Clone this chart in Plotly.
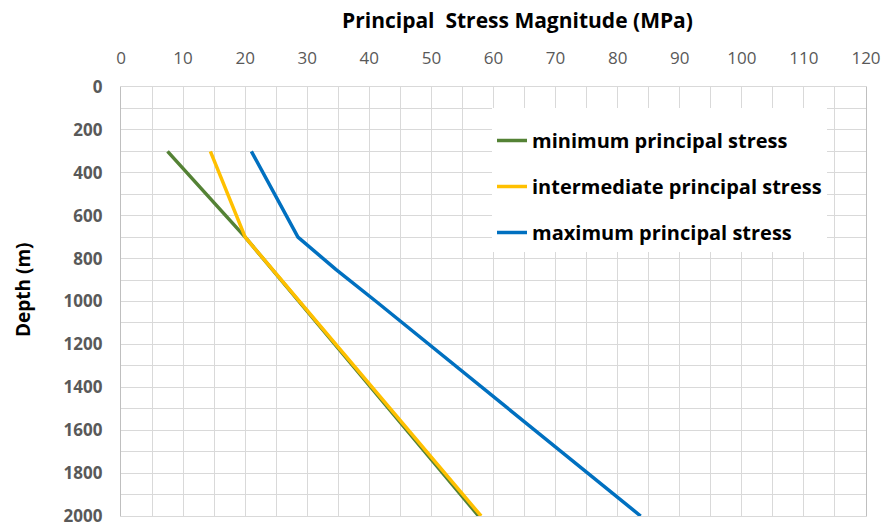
import plotly.graph_objects as go

depth_min = [300, 700, 2000]
stress_min = [7.5, 20.0, 57.6]

depth_int = [300, 700, 2000]
stress_int = [14.4, 20.0, 58.0]

depth_max = [300, 700, 850, 1000, 2000]
stress_max = [21.0, 28.5, 34.6, 41.1, 83.7]

names = ["minimum principal stress", "intermediate principal stress", "maximum principal stress"]
colors = ["#548235", "#FFC000", "#0070C0"]

FONT = "Open Sans"

fig = go.Figure()
series = [(stress_min, depth_min), (stress_int, depth_int), (stress_max, depth_max)]
for i, ((xs, ys), nm, c) in enumerate(zip(series, names, colors)):
    fig.add_trace(go.Scatter(x=xs, y=ys, mode="lines", name=nm,
                             line=dict(color=c, width=3.5),
                             legendgroup=f"g{i}"))

W, H = 892, 526
L, R, T, B = 121, 26, 87, 10

fig.update_layout(
    width=W, height=H,
    margin=dict(l=L, r=R, t=T, b=B, autoexpand=False),
    paper_bgcolor="white", plot_bgcolor="white",
    font=dict(family=FONT, color="#000000"),
    showlegend=True,
    legend=dict(x=(492 - L) / (W - L - R), y=1 - (108 - T) / (H - T - B),
                xanchor="left", yanchor="top",
                bgcolor="white", borderwidth=0,
                font=dict(family=FONT, size=20, color="#000000", weight="bold"),
                title=dict(text=" ", font=dict(size=10)),
                traceorder="grouped", tracegroupgap=17,
                itemwidth=30),
    xaxis=dict(range=[0, 120], side="top", dtick=10, tick0=0, automargin=False,
               showgrid=True, gridcolor="#D9D9D9", gridwidth=1.3,
               minor=dict(dtick=5, showgrid=True, gridcolor="#D9D9D9", gridwidth=1.3),
               showline=True, linecolor="#D9D9D9", linewidth=1.3, mirror=True,
               zeroline=False, ticks="", ticklabeloverflow="allow",
               tickfont=dict(family=FONT, size=17, color="#595959"),
               ticklabelstandoff=15),
    yaxis=dict(range=[2000, 0], dtick=200, tick0=0, automargin=False,
               showgrid=True, gridcolor="#D9D9D9", gridwidth=1.3,
               minor=dict(dtick=100, showgrid=True, gridcolor="#D9D9D9", gridwidth=1.3),
               showline=True, linecolor="#BFBFBF", linewidth=1.3, mirror=True,
               zeroline=False, ticks="", ticklabeloverflow="allow",
               tickfont=dict(family=FONT, size=17, color="#595959", weight="bold"),
               ticklabelstandoff=14),
)

pw = W - L - R
ph = H - T - B
fig.add_annotation(text="Principal  Stress Magnitude (MPa)", xref="paper", yref="paper",
                   x=(517 - L) / pw, y=1 + (T - 20) / ph, xanchor="center", yanchor="middle",
                   showarrow=False, font=dict(family=FONT, size=21, color="#000000", weight="bold"))
fig.add_annotation(text="Depth (m)", xref="paper", yref="paper",
                   x=(23 - L) / pw, y=(H - B - 290) / ph, xanchor="center", yanchor="middle",
                   textangle=-90, showarrow=False,
                   font=dict(family=FONT, size=19, color="#000000", weight="bold"))

fig.write_html("out.html")
